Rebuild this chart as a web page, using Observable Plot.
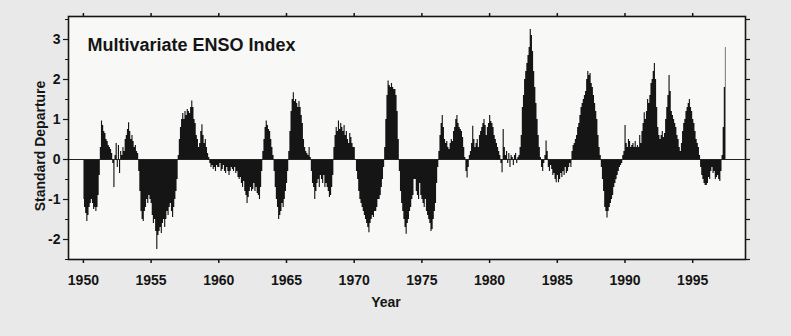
<!DOCTYPE html>
<html>
<head>
<meta charset="utf-8">
<script src="https://cdn.jsdelivr.net/npm/d3@7"></script>
<script src="https://cdn.jsdelivr.net/npm/@observablehq/plot@0.6"></script>
<style>
  html, body { margin: 0; padding: 0; background: #e9e9e9; }
  #chart { width: 791px; height: 336px; }
</style>
</head>
<body>
<div id="chart"></div>
<script>
// Multivariate ENSO Index, monthly standardized departures, Jan 1950 onward.
const firstYear = 1950;

const mei1950s = [
  -1.0, -1.2, -1.35, -1.55, -1.4, -1.2, -1.1, -1.0, -1.1, -1.25, -1.2, -1.3,   // 1950
  -1.2, -0.9, -0.4, 0.3, 0.96, 0.85, 0.7, 0.65, 0.5, 0.45, 0.35, 0.3,          // 1951
  0.25, 0.15, -0.1, -0.7, 0.1, 0.4, -0.2, 0.35, -0.35, 0.2, 0.1, 0.3,          // 1952
  0.2, 0.5, 0.6, 0.75, 0.92, 0.7, 0.5, 0.6, 0.45, 0.3, 0.35, 0.2,              // 1953
  0.15, -0.3, -0.8, -1.3, -1.5, -1.55, -1.3, -1.2, -1.0, -1.1, -0.9, -1.0,     // 1954
  -1.1, -1.4, -1.6, -1.5, -1.8, -2.25, -1.9, -1.8, -1.7, -1.85, -1.6, -1.5,    // 1955
  -1.7, -1.5, -1.3, -1.4, -1.2, -1.1, -1.3, -1.45, -1.2, -1.0, -0.8, -0.5,     // 1956
  0.1, 0.5, 0.8, 1.0, 1.15, 1.0, 1.2, 1.1, 1.25, 1.2, 1.15, 1.3,               // 1957
  1.46, 1.3, 1.0, 0.9, 0.6, 0.5, 0.3, 0.4, 0.7, 0.87, 0.6, 0.4,                // 1958
  0.5, 0.3, 0.15, 0.05, -0.1, -0.2, -0.15, -0.25, -0.2, -0.3, -0.15, -0.2      // 1959
];

const mei1960s = [
  -0.2, -0.1, -0.3, -0.25, -0.15, -0.3, -0.35, -0.2, -0.3, -0.4, -0.3, -0.2,   // 1960
  -0.25, -0.3, -0.2, -0.35, -0.3, -0.45, -0.5, -0.45, -0.6, -0.7, -0.55, -0.8, // 1961
  -0.9, -1.1, -0.95, -0.8, -0.7, -0.8, -0.75, -0.6, -0.8, -0.7, -0.85, -0.9,   // 1962
  -1.0, -0.7, -0.3, 0.2, 0.5, 0.8, 0.96, 0.85, 0.75, 0.7, 0.5, 0.3,            // 1963
  0.1, -0.3, -0.7, -1.0, -1.2, -1.5, -1.4, -1.3, -1.1, -1.2, -1.0, -0.8,       // 1964
  -0.6, -0.3, 0.2, 0.7, 1.2, 1.5, 1.67, 1.45, 1.5, 1.4, 1.3, 1.45,             // 1965
  1.3, 1.1, 0.9, 0.5, 0.3, 0.2, 0.15, 0.1, 0.3, 0.05, -0.3, -0.6,              // 1966
  -0.7, -1.0, -0.8, -0.6, -0.5, -0.7, -0.4, -0.5, -0.6, -0.4, -0.7, -0.6,      // 1967
  -0.7, -0.8, -0.95, -0.9, -0.7, -0.4, 0.3, 0.6, 0.8, 0.7, 0.96, 0.75,         // 1968
  0.9, 0.8, 0.7, 0.85, 0.6, 0.7, 0.5, 0.4, 0.65, 0.55, 0.4, 0.3                // 1969
];

const mei1970s = [
  0.3, 0.0, -0.3, -0.5, -0.8, -1.0, -1.1, -1.2, -1.3, -1.4, -1.5, -1.6,        // 1970
  -1.7, -1.83, -1.6, -1.5, -1.4, -1.45, -1.3, -1.3, -1.2, -1.0, -1.0, -0.9,    // 1971
  -0.7, -0.5, -0.2, 0.3, 1.0, 1.6, 1.96, 1.85, 1.8, 1.9, 1.8, 1.75,            // 1972
  1.75, 1.6, 1.2, 0.5, -0.3, -0.8, -1.1, -1.3, -1.5, -1.7, -1.87, -1.6,        // 1973
  -1.5, -1.3, -1.2, -1.0, -0.9, -0.5, -0.5, -0.8, -0.9, -1.0, -0.6, -0.9,      // 1974
  -1.0, -1.1, -1.2, -1.0, -1.3, -1.4, -1.5, -1.6, -1.8, -1.75, -1.5, -1.3,     // 1975
  -1.1, -0.6, -0.2, 0.2, 0.6, 0.9, 1.1, 0.8, 0.5, 0.4, 0.45, 0.3,              // 1976
  0.25, 0.4, 0.5, 0.45, 0.7, 0.8, 1.0, 1.1, 0.9, 0.8, 0.75, 0.7,               // 1977
  0.55, 0.3, 0.05, -0.3, -0.46, -0.2, 0.1, 0.2, 0.4, 0.83, 0.5, 0.3,           // 1978
  0.4, 0.5, 0.3, 0.6, 0.7, 0.8, 0.9, 1.0, 0.85, 0.6, 0.8, 0.9                  // 1979
];

const mei1980s = [
  1.1, 0.95, 0.9, 0.8, 0.6, 0.5, 0.4, 0.3, 0.2, 0.1, -0.1, -0.33,             // 1980
  0.75, 0.3, 0.1, 0.2, -0.1, 0.15, -0.2, 0.1, 0.05, -0.15, 0.1, 0.15,          // 1981
  -0.1, 0.05, 0.1, 0.3, 0.6, 1.3, 1.6, 2.0, 2.2, 2.4, 2.6, 2.8,                // 1982
  3.25, 3.1, 2.7, 2.2, 1.8, 1.4, 1.0, 0.6, 0.3, 0.05, -0.2, -0.3,              // 1983
  -0.1, 0.1, 0.46, 0.2, -0.2, -0.3, -0.15, -0.25, -0.4, -0.35, -0.5, -0.58,    // 1984
  -0.4, -0.58, -0.5, -0.35, -0.45, -0.3, -0.4, -0.2, -0.35, -0.3, -0.2, -0.1,  // 1985
  -0.2, 0.2, 0.35, 0.4, 0.5, 0.6, 0.8, 0.9, 1.1, 1.3, 1.4, 1.5,                // 1986
  1.6, 1.7, 2.0, 2.2, 2.1, 2.15, 1.9, 1.8, 1.6, 1.4, 1.2, 1.0,                 // 1987
  0.6, 0.3, 0.1, -0.2, -0.5, -0.8, -1.2, -1.3, -1.46, -1.3, -1.2, -1.1,        // 1988
  -1.0, -0.9, -0.7, -0.6, -0.5, -0.4, -0.3, -0.2, -0.15, -0.1, 0.1, 0.2        // 1989
];

const mei1990s = [
  0.85, 0.4, 0.3, 0.5, 0.45, 0.3, 0.35, 0.4, 0.3, 0.45, 0.3, 0.35,             // 1990
  0.3, 0.6, 0.4, 0.7, 0.9, 1.17, 1.0, 1.2, 1.5, 1.4, 1.6, 1.9,                 // 1991
  2.0, 2.2, 2.4, 2.0, 1.3, 0.8, 0.6, 0.5, 0.6, 0.7, 0.55, 0.65,                // 1992
  1.0, 1.3, 1.6, 2.1, 1.7, 1.2, 1.1, 1.0, 0.9, 0.8, 0.6, 0.5,                  // 1993
  0.3, 0.2, 0.4, 0.7, 0.9, 1.0, 1.2, 1.3, 1.4, 1.5, 1.3, 1.2,                  // 1994
  1.0, 0.9, 0.7, 0.5, 0.4, 0.3, 0.1, -0.2, -0.4, -0.5, -0.6, -0.65,            // 1995
  -0.65, -0.6, -0.45, -0.5, -0.3, -0.2, -0.35, -0.3, -0.5, -0.45, -0.4, -0.5,  // 1996
  -0.55, -0.3, 0.1, 0.8, 1.8, 2.8                                              // 1997 (Jan-Jun)
];

const yearTicks = [1950, 1955, 1960, 1965, 1970, 1975, 1980, 1985, 1990, 1995];
const valueTicks = [-2, -1, 0, 1, 2, 3];
const halfTicks = [-2.5, -2, -1.5, -1, -0.5, 0, 0.5, 1, 1.5, 2, 2.5, 3, 3.5];
const titleText = "Multivariate ENSO Index";
const xLabel = "Year";
const yLabel = "Standard Departure";

// One record per month, centred within its month.
const monthly = [...mei1950s, ...mei1960s, ...mei1970s, ...mei1980s, ...mei1990s]
  .map((v, i) => ({ t: firstYear + (i + 0.5) / 12, v }));

const ink = "#151515";
const font = "'Liberation Sans', Arial, Helvetica, sans-serif";

const chart = Plot.plot({
  width: 791,
  height: 336,
  marginLeft: 68,
  marginRight: 46,
  marginTop: 16,
  marginBottom: 77,
  style: { fontFamily: font, background: "transparent", color: ink, overflow: "visible" },
  x: { domain: [1948.9, 1998.9] },
  y: { domain: [-2.5, 3.575] },
  marks: [
    Plot.frame({ fill: "#f8f8f7", stroke: "none" }),
    Plot.areaY(monthly, { x: "t", y: "v", curve: "step", fill: ink }),
    Plot.ruleY([0], { stroke: "#222", strokeWidth: 1 }),
    // bottom axis with year labels
    Plot.axisX({ ticks: yearTicks, tickSize: 4, tickPadding: 12, tickFormat: d => String(d),
                 label: null, fontSize: 14, fontWeight: "bold", stroke: ink, strokeWidth: 1.5 }),
    // top ticks only
    Plot.axisX({ anchor: "top", ticks: yearTicks, tickSize: 4, tickFormat: () => "",
                 label: null, stroke: ink, strokeWidth: 1.5 }),
    // left axis: labelled integer ticks plus half-unit minor ticks
    Plot.axisY({ ticks: valueTicks, tickSize: 5, tickPadding: 3, tickFormat: d => String(d),
                 label: null, fontSize: 14, fontWeight: "bold", stroke: ink, strokeWidth: 1.2 }),
    Plot.axisY({ ticks: halfTicks, tickSize: 3, tickFormat: () => "", label: null, stroke: ink }),
    // right ticks only
    Plot.axisY({ anchor: "right", ticks: halfTicks, tickSize: 4, tickFormat: () => "",
                 label: null, stroke: ink, strokeWidth: 1.2 }),
    Plot.frame({ stroke: ink, strokeWidth: 1.6 }),
    Plot.text([titleText], { frameAnchor: "top-left", dx: 19, dy: 29, textAnchor: "start",
                             lineAnchor: "middle", text: d => d, fontSize: 18, fontWeight: "bold", fill: ink }),
    Plot.text([xLabel], { frameAnchor: "bottom", dx: -21, dy: 43, textAnchor: "middle",
                          lineAnchor: "middle", text: d => d, fontSize: 14, fontWeight: "bold", fill: ink }),
    Plot.text([yLabel], { frameAnchor: "left", dx: -28, dy: 8, rotate: -90, textAnchor: "middle",
                          lineAnchor: "middle", text: d => d, fontSize: 14, fontWeight: "bold", fill: ink })
  ]
});

document.getElementById("chart").appendChild(chart);
</script>
</body>
</html>
